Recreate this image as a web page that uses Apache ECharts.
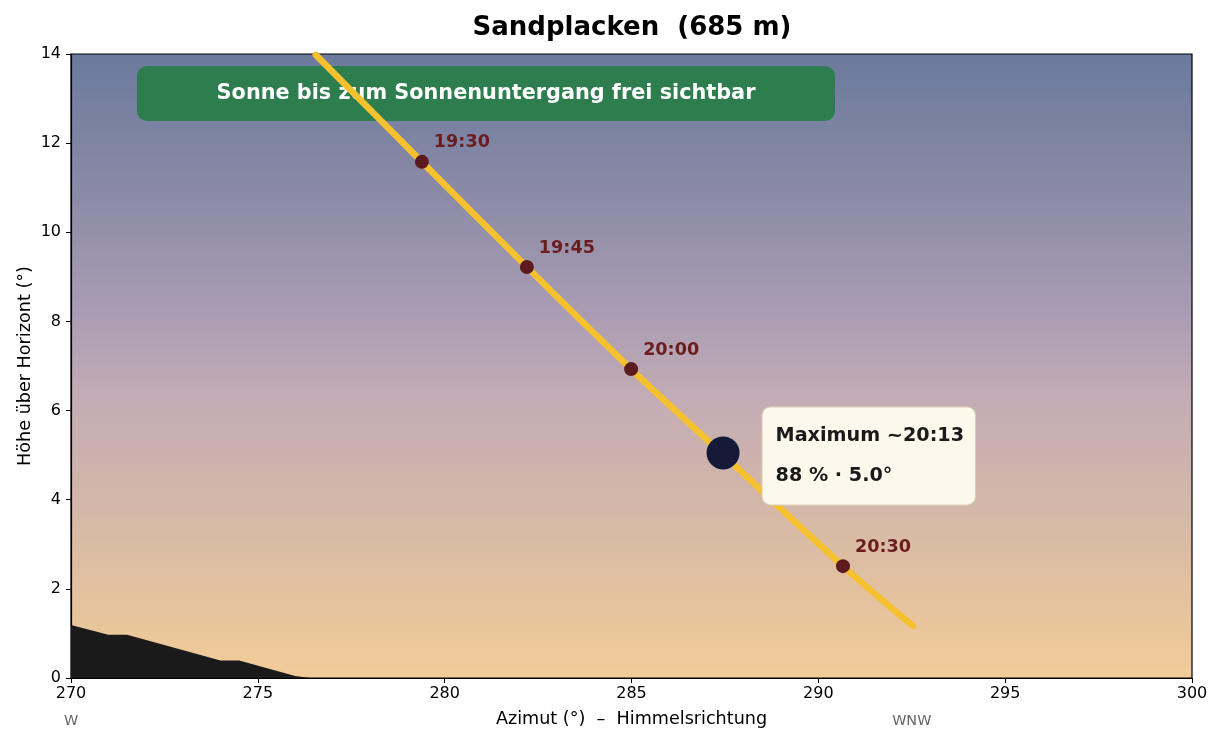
<!DOCTYPE html>
<html><head><meta charset="utf-8">
<script src="https://cdn.jsdelivr.net/npm/echarts@6/dist/echarts.min.js"></script>
<style>html,body{margin:0;padding:0;background:#fff}#c{width:1224px;height:744px}</style>
</head><body><div id="c"></div>
<script>
// ---- data ----
const titleText = 'Sandplacken  (685 m)';
const xTicks = [270, 300, 5];
const yTicks = [0, 14, 2];
// sun path (azimuth, altitude) every 15 min, from 19:15 until end
const pathAz  = [276.55, 279.39, 282.20, 284.99, 287.85, 290.66, 292.53];
const pathAlt = [13.98, 11.58, 9.22, 6.93, 4.70, 2.51, 1.17];
// labelled time markers
const markTimes = ['19:30', '19:45', '20:00', '20:30'];
const markAz  = [279.39, 282.20, 284.99, 290.66];
const markAlt = [11.58, 9.22, 6.93, 2.51];
// maximum
const maxAz = 287.45, maxAlt = 5.05;
const maxLine1 = 'Maximum ~20:13';
const maxLine2 = '88 % · 5.0°';
// horizon / terrain profile
const terrAz  = [270, 271, 271.5, 274, 274.5, 276, 276.4, 300];
const terrAlt = [1.19, 0.97, 0.97, 0.39, 0.39, 0.045, 0, 0];
// compass directions
const compassAz = [270, 292.5];
const compassNames = ['W', 'WNW'];
const bannerText = 'Sonne bis zum Sonnenuntergang frei sichtbar';

const F = 'DejaVu Sans';
const chart = echarts.init(document.getElementById('c'));
const pair = (a, b) => a.map((v, i) => [v, b[i]]);

chart.setOption({
  animation: false,
  backgroundColor: '#fff',
  textStyle: { fontFamily: F },
  title: {
    text: titleText, left: 627, textAlign: 'center', top: 10,
    textStyle: { fontFamily: F, fontSize: 26, fontWeight: 'bold', color: '#000' }
  },
  grid: {
    left: 71, right: 32, top: 54, bottom: 66, show: true,
    borderColor: '#000', borderWidth: 1.2,
    backgroundColor: new echarts.graphic.LinearGradient(0, 0, 0, 1, [
      { offset: 0, color: '#6b7a9d' },
      { offset: 0.22, color: '#8a8aa6' },
      { offset: 0.42, color: '#aa9db3' },
      { offset: 0.55, color: '#c3acb5' },
      { offset: 0.72, color: '#d3b7a8' },
      { offset: 0.87, color: '#e4c29f' },
      { offset: 1, color: '#f2cc97' }
    ])
  },
  xAxis: [{
    type: 'value', min: xTicks[0], max: xTicks[1], interval: xTicks[2],
    name: 'Azimut (°)  –  Himmelsrichtung', nameLocation: 'middle', nameGap: 32,
    nameTextStyle: { fontFamily: F, fontSize: 17.6, color: '#000' },
    axisLine: { show: true, onZero: false, lineStyle: { color: '#000', width: 1.2 } },
    axisTick: { show: true, inside: false, length: 5, lineStyle: { color: '#000' } },
    axisLabel: { fontFamily: F, fontSize: 16, color: '#000', margin: 8 },
    splitLine: { show: false }
  }, {
    type: 'value', min: xTicks[0], max: xTicks[1], position: 'bottom', offset: 28,
    axisLine: { show: false }, axisTick: { show: false }, splitLine: { show: false },
    axisLabel: {
      customValues: compassAz, fontFamily: F, fontSize: 14.4, color: '#666',
      formatter: v => compassNames[compassAz.indexOf(v)] || ''
    }
  }],
  yAxis: {
    type: 'value', min: yTicks[0], max: yTicks[1], interval: yTicks[2],
    name: 'Höhe über Horizont (°)', nameLocation: 'middle', nameGap: 37, nameMoveOverlap: false,
    nameTextStyle: { fontFamily: F, fontSize: 17.6, color: '#000' },
    axisLine: { show: true, lineStyle: { color: '#000', width: 1.2 } },
    axisTick: { show: true, length: 5, lineStyle: { color: '#000' } },
    axisLabel: { fontFamily: F, fontSize: 16, color: '#000', margin: 10 },
    splitLine: { show: false }
  },
  series: [{
    type: 'line', data: pair(terrAz, terrAlt), symbol: 'none', silent: true,
    lineStyle: { width: 0 }, itemStyle: { color: '#1a1a1a' },
    areaStyle: { color: '#1a1a1a', opacity: 1 }, z: 2
  }, {
    type: 'line', data: pair(pathAz, pathAlt), symbol: 'none', smooth: 0.35,
    lineStyle: { color: '#f5c12e', width: 6.5, cap: 'round' }, z: 3
  }, {
    type: 'scatter', symbolSize: 14,
    data: markAz.map((a, i) => ({ value: [a, markAlt[i]], name: markTimes[i] })),
    itemStyle: { color: '#5c1a1e', opacity: 1 },
    label: {
      show: true, formatter: p => p.name, position: 'right', offset: [0, -19],
      fontFamily: F, fontSize: 17.6, fontWeight: 'bold', color: '#6b1c1f'
    }, z: 4
  }, {
    type: 'scatter', symbolSize: 33, data: [[maxAz, maxAlt]],
    itemStyle: { color: '#141a38', opacity: 1 },
    label: {
      show: true, position: 'right', distance: 23, offset: [0, 3],
      formatter: '{a|' + maxLine1 + '}\n{a|' + maxLine2 + '}',
      backgroundColor: '#fcf8ec', borderColor: '#d9d2b4', borderWidth: 1, borderRadius: 8,
      padding: [9, 11, 8, 13],
      rich: { a: { fontFamily: F, fontSize: 19.2, fontWeight: 'bold', color: '#1a1a1a', lineHeight: 40 } }
    }, z: 5
  }],
  graphic: [{
    type: 'group', left: 137, top: 66, z: 10,
    children: [{
      type: 'rect', shape: { x: 0, y: 0, width: 698, height: 55, r: 10 },
      style: { fill: '#2e7d4f' }
    }, {
      type: 'text', x: 349, y: 28,
      style: { text: bannerText, fill: '#fff', font: 'bold 20.8px "DejaVu Sans"', align: 'center', verticalAlign: 'middle' }
    }]
  }]
});
</script></body></html>
